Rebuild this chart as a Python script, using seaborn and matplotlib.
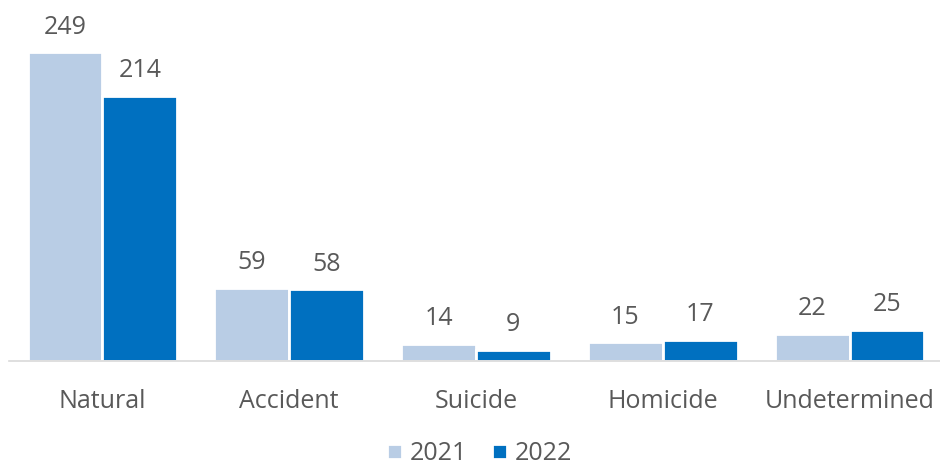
import matplotlib
matplotlib.use("Agg")
import matplotlib.pyplot as plt
import seaborn as sns
import pandas as pd

categories = ["Natural", "Accident", "Suicide", "Homicide", "Undetermined"]
deaths_2021 = [249, 59, 14, 15, 22]
deaths_2022 = [214, 58, 9, 17, 25]
years = ["2021", "2022"]
colors = ["#B9CDE5", "#0070C0"]

df = pd.DataFrame({
    "Category": categories * 2,
    "Year": [years[0]] * len(categories) + [years[1]] * len(categories),
    "Count": deaths_2021 + deaths_2022,
})

sns.set_style("white")
plt.rcParams["font.family"] = ["Open Sans", "DejaVu Sans"]
text_color = "#595959"
fs = 18

fig = plt.figure(figsize=(9.4, 4.7), dpi=100)
ax = fig.add_axes([9 / 940, (470 - 361) / 470, 934 / 940, 361 / 470])

sns.barplot(data=df, x="Category", y="Count", hue="Year", palette=colors,
            saturation=1, width=0.8, edgecolor="white", linewidth=2,
            ax=ax, legend=True)

for cont in ax.containers:
    ax.bar_label(cont, padding=9, fontsize=fs, color=text_color)

ax.set_ylim(0, 291)
ax.set_xlim(-0.5, 4.5)
ax.set_xlabel("")
ax.set_ylabel("")
ax.set_yticks([])
ax.tick_params(axis="x", length=0, pad=20, labelsize=fs, labelcolor=text_color)
for side in ["top", "right", "left"]:
    ax.spines[side].set_visible(False)
ax.spines["bottom"].set_color("#D9D9D9")
ax.spines["bottom"].set_linewidth(1.2)

handles, labels = ax.get_legend_handles_labels()
ax.legend_.remove()
fig.legend(handles, labels, loc="lower center", bbox_to_anchor=(0.51, -0.04),
           ncol=2, frameon=False, fontsize=fs, labelcolor=text_color,
           handlelength=0.6, handleheight=0.6, handletextpad=0.3, columnspacing=1.0)

fig.savefig("out.png", dpi=100)
